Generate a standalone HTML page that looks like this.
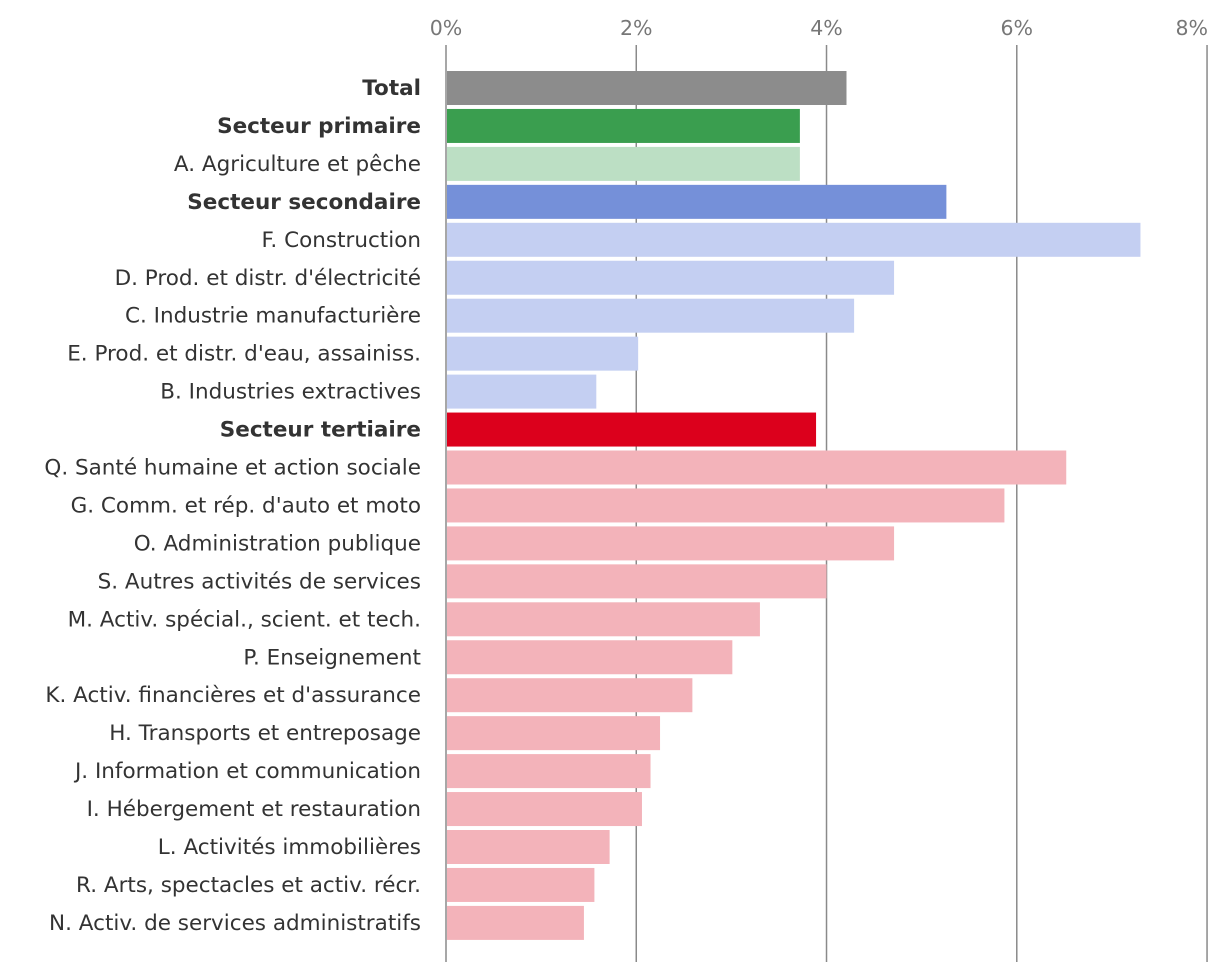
<!DOCTYPE html>
<html><head><meta charset="utf-8"><style>
body{margin:0;background:#fff;}
svg{display:block;font-family:"DejaVu Sans","Liberation Sans",sans-serif;}
</style></head><body>
<svg id="chart" width="1220" height="972"></svg>
<script>
const categories=["Total","Secteur primaire","A. Agriculture et pêche","Secteur secondaire","F. Construction","D. Prod. et distr. d'électricité","C. Industrie manufacturière","E. Prod. et distr. d'eau, assainiss.","B. Industries extractives","Secteur tertiaire","Q. Santé humaine et action sociale","G. Comm. et rép. d'auto et moto","O. Administration publique","S. Autres activités de services","M. Activ. spécial., scient. et tech.","P. Enseignement","K. Activ. financières et d'assurance","H. Transports et entreposage","J. Information et communication","I. Hébergement et restauration","L. Activités immobilières","R. Arts, spectacles et activ. récr.","N. Activ. de services administratifs"];
const values=[4.21,3.72,3.72,5.26,7.30,4.71,4.29,2.02,1.58,3.89,6.52,5.87,4.71,4.0,3.30,3.01,2.59,2.25,2.15,2.06,1.72,1.56,1.45];
const groups=["total","prim","prim-l","sec","sec-l","sec-l","sec-l","sec-l","sec-l","ter","ter-l","ter-l","ter-l","ter-l","ter-l","ter-l","ter-l","ter-l","ter-l","ter-l","ter-l","ter-l","ter-l"];
const ticks=[0,2,4,6,8];
const colors={"total":"#8c8c8c","prim":"#3a9e4f","prim-l":"#bcdfc4","sec":"#7590d9","sec-l":"#c4cff2","ter":"#dc001c","ter-l":"#f3b3ba"};
const NS="http://www.w3.org/2000/svg";
const svg=document.getElementById("chart");
const x=v=>446+v*95.13;
const y=i=>71+i*37.95;
function mk(t,a){const e=document.createElementNS(NS,t);for(const k in a)e.setAttribute(k,a[k]);svg.appendChild(e);return e;}
ticks.forEach((t,k)=>{
 const l=mk("line",{x1:x(t),x2:x(t),y1:45,y2:962,stroke:"#8a8a8a","stroke-width":1.5});
 
 
 const last=k===ticks.length-1;
 const tx=mk("text",{x:last?1208:x(t),y:35,"text-anchor":last?"end":"middle","font-size":20.5,fill:"#777"});
 tx.textContent=t+"%";
 
 
});
categories.forEach((c,i)=>{
 const r=mk("rect",{x:x(0)+1,y:y(i),width:x(values[i])-x(0)-1,height:34,fill:colors[groups[i]]});
 
 
 const bold=!c.includes(".");
 const tx=mk("text",{x:421,y:y(i)+24,"text-anchor":"end","font-size":21.5,fill:"#333","font-weight":bold?"bold":"normal"});
 tx.textContent=c;
 
 
});
</script>
</body></html>
